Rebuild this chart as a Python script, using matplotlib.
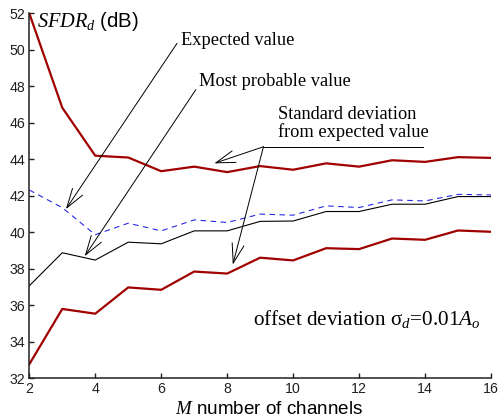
import matplotlib
matplotlib.use("Agg")
import matplotlib.pyplot as plt

plt.rcParams['mathtext.fontset'] = 'custom'
plt.rcParams['mathtext.rm'] = 'Liberation Serif'
plt.rcParams['mathtext.it'] = 'Liberation Serif:italic'
plt.rcParams['mathtext.sf'] = 'Liberation Sans'
plt.rcParams['font.family'] = ['Liberation Sans', 'DejaVu Sans']

# Data
M = [2, 3, 4, 5, 6, 7, 8, 9, 10, 11, 12, 13, 14, 15, 16]
upper_std = [52.0, 46.83, 44.2, 44.1, 43.35, 43.6, 43.3, 43.63, 43.43, 43.78, 43.6, 43.95, 43.86, 44.12, 44.08]
expected = [42.32, 41.35, 39.87, 40.5, 40.08, 40.68, 40.54, 41.0, 40.94, 41.45, 41.36, 41.78, 41.72, 42.08, 42.05]
most_probable = [37.07, 38.88, 38.48, 39.46, 39.37, 40.08, 40.08, 40.6, 40.62, 41.14, 41.14, 41.54, 41.54, 41.96, 41.96]
lower_std = [32.77, 35.8, 35.54, 36.98, 36.85, 37.85, 37.74, 38.61, 38.46, 39.13, 39.08, 39.66, 39.59, 40.1, 40.03]
xticks = [2, 4, 6, 8, 10, 12, 14, 16]
yticks = [32, 34, 36, 38, 40, 42, 44, 46, 48, 50, 52]

fig = plt.figure(figsize=(4.99, 4.18), dpi=100)
ax = fig.add_axes([0.0587, 0.095, 0.984 - 0.0587, 0.968 - 0.095])

red = '#a00000'
ax.plot(M, upper_std, color=red, lw=1.6)
ax.plot(M, lower_std, color=red, lw=1.6)
ax.plot(M, most_probable, color='black', lw=0.8)
ax.plot(M, expected, color='#2828e6', lw=0.8, dashes=(5, 4))

ax.set_xlim(2, 16)
ax.set_ylim(32, 52)
ax.set_xticks(xticks)
ax.set_yticks(yticks)
for s in ['top', 'right']:
    ax.spines[s].set_visible(False)
for s in ['left', 'bottom']:
    ax.spines[s].set_linewidth(1.1)
    ax.spines[s].set_color('#202020')
ax.tick_params(direction='in', length=3.5, width=1.0, pad=3, labelsize=10.2, colors='#202020')
ax.tick_params(axis='x', pad=2.5)

# Axis labels
ax.text(2.23, 51.24, r"$\mathit{SFDR}_{\mathit{d}}\ \mathsf{(dB)}$", fontsize=14.7,
        va='baseline', ha='left')
fig.text(269 / 499, 3.5 / 418, r"$\mathit{M}$ number of channels", fontsize=13.6,
         ha='center', va='baseline', family=['Liberation Sans'])

serif = ['Liberation Serif']
fs = 13.2
ax.text(6.6, 50.5, "Expected value", fontsize=fs, family=serif, va='center', ha='left')
ax.text(7.15, 48.27, "Most probable value", fontsize=fs, family=serif, va='center', ha='left')
ax.text(9.55, 45.96, "Standard deviation\nfrom expected value", fontsize=fs, family=serif,
        va='center', ha='left', linespacing=1.0)
ax.text(8.79, 35.27, "offset deviation σ$_{\\mathit{d}}$=0.01$\\mathit{A}_{\\mathit{o}}$",
        fontsize=15.2, family=serif, va='center', ha='left')

ap = dict(arrowstyle='->,head_length=1.05,head_width=0.33', color='black', lw=0.7,
          shrinkA=0, shrinkB=0)
ax.annotate('', xy=(3.11, 41.27), xytext=(6.48, 50.36), arrowprops=ap, fontsize=fs)
ax.annotate('', xy=(3.68, 38.69), xytext=(7.05, 47.82), arrowprops=ap, fontsize=fs)
ax.plot([9.1, 13.95], [44.69, 44.69], color='black', lw=0.7)
ax.annotate('', xy=(7.61, 43.78), xytext=(9.1, 44.69), arrowprops=ap, fontsize=fs)
ax.annotate('', xy=(8.17, 38.23), xytext=(9.1, 44.69), arrowprops=ap, fontsize=fs)

fig.savefig('out.png', dpi=100)
